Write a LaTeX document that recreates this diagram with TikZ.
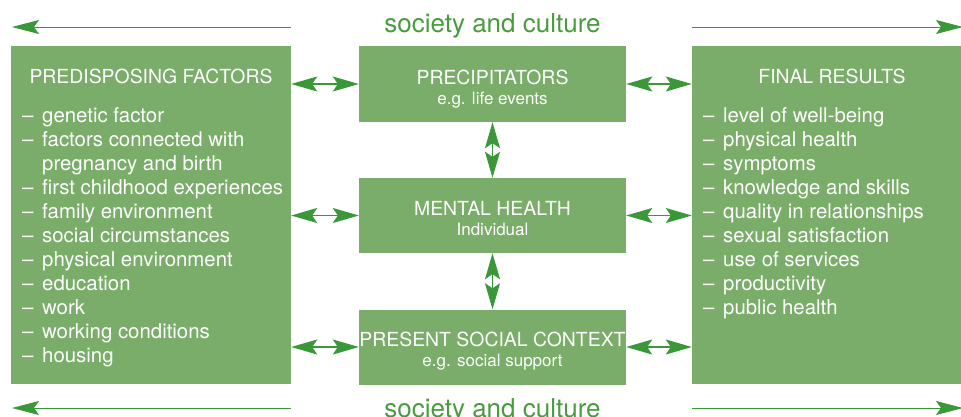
\documentclass[tikz,border=0pt]{standalone}
\usepackage{fontspec}
\setmainfont{TeX Gyre Heros}
\usetikzlibrary{arrows.meta}
\definecolor{boxgreen}{RGB}{122,173,105}
\definecolor{arrowgreen}{RGB}{58,152,58}
\definecolor{textgreen}{RGB}{72,156,62}
\newcommand{\itemdash}{\makebox[20pt][l]{–}}
\tikzset{
  box/.style={fill=boxgreen, inner sep=0pt},
  head/.style={text=white, font=\fontsize{19.4}{22}\selectfont, anchor=base, inner sep=0pt},
  sub/.style={text=white, font=\fontsize{17}{20}\selectfont, anchor=base, inner sep=0pt},
  itm/.style={text=white, font=\fontsize{20.4}{24}\selectfont, anchor=base west, inner sep=0pt},
  link/.style={draw=arrowgreen, line width=1.3pt, {Stealth[length=26pt,width=15pt,inset=5pt]}-{Stealth[length=26pt,width=15pt,inset=5pt]}},
  wide/.style={draw=arrowgreen, line width=1pt, -{Stealth[length=27pt,width=14pt,inset=5pt]}},
  society/.style={text=textgreen, font=\fontsize{26}{30}\selectfont, anchor=base, inner sep=0pt}
}
\begin{document}
\begin{tikzpicture}[x=1pt,y=-1pt]
\clip (0,0) rectangle (961,416);

% society and culture
\node[society] (st) at (492.5,32) {society and culture};
\node[society] (sb) at (492.5,417) {society and culture};
\coordinate (tl1) at (291,27);
\coordinate (tl2) at (12,27);
\coordinate (tr1) at (692,27);
\coordinate (tr2) at (963,27);
\coordinate (bl1) at (291,408);
\coordinate (bl2) at (12,408);
\coordinate (br1) at (692,408);
\coordinate (br2) at (963,408);
\draw[wide] (tl1) -- (tl2);
\draw[wide] (tr1) -- (tr2);
\draw[wide] (bl1) -- (bl2);
\draw[wide] (br1) -- (br2);

% boxes
\node[box, minimum width=280pt, minimum height=338pt] (pf) at (151,215) {};
\node[box, minimum width=267pt, minimum height=76pt] (pr) at (492.5,84) {};
\node[box, minimum width=267pt, minimum height=75pt] (mh) at (492.5,215.5) {};
\node[box, minimum width=267pt, minimum height=75pt] (ps) at (492.5,347) {};
\node[box, minimum width=280pt, minimum height=338pt] (fr) at (832,215) {};

% headings
\node[head] (pfh) at (151,83) {PREDISPOSING FACTORS};
\node[head] (prh) at (492.5,84) {PRECIPITATORS};
\node[sub] (prs) at (492.5,104) {e.g. life events};
\node[head] (mhh) at (492.5,215) {MENTAL HEALTH};
\node[sub] (mhs) at (492.5,235) {Individual};
\node[head] (psh) at (492.5,346) {PRESENT SOCIAL CONTEXT};
\node[sub] (pss) at (492.5,366) {e.g. social support};
\node[head] (frh) at (832,83) {FINAL RESULTS};

% predisposing factors
\node[itm] (p1) at (22,122) {\itemdash genetic factor};
\node[itm] (p2) at (22,146) {\itemdash factors connected with};
\node[itm] (p3) at (42,170) {pregnancy and birth};
\node[itm] (p4) at (22,194) {\itemdash first childhood experiences};
\node[itm] (p5) at (22,218) {\itemdash family environment};
\node[itm] (p6) at (22,242) {\itemdash social circumstances};
\node[itm] (p7) at (22,266) {\itemdash physical environment};
\node[itm] (p8) at (22,290) {\itemdash education};
\node[itm] (p9) at (22,314) {\itemdash work};
\node[itm] (p10) at (22,338) {\itemdash working conditions};
\node[itm] (p11) at (22,362) {\itemdash housing};

% final results
\node[itm] (r1) at (703,122) {\itemdash level of well-being};
\node[itm] (r2) at (703,146) {\itemdash physical health};
\node[itm] (r3) at (703,170) {\itemdash symptoms};
\node[itm] (r4) at (703,194) {\itemdash knowledge and skills};
\node[itm] (r5) at (703,218) {\itemdash quality in relationships};
\node[itm] (r6) at (703,242) {\itemdash sexual satisfaction};
\node[itm] (r7) at (703,266) {\itemdash use of services};
\node[itm] (r8) at (703,290) {\itemdash productivity};
\node[itm] (r9) at (703,314) {\itemdash public health};

% links
\draw[link] (pf.east |- pr) -- (pr.west);
\draw[link] (pf.east |- mh) -- (mh.west);
\draw[link] (pf.east |- ps) -- (ps.west);
\draw[link] (pr.east) -- (fr.west |- pr);
\draw[link] (mh.east) -- (fr.west |- mh);
\draw[link] (ps.east) -- (fr.west |- ps);
\draw[link] (pr.south) -- (mh.north);
\draw[link] (mh.south) -- (ps.north);
\end{tikzpicture}
\end{document}
